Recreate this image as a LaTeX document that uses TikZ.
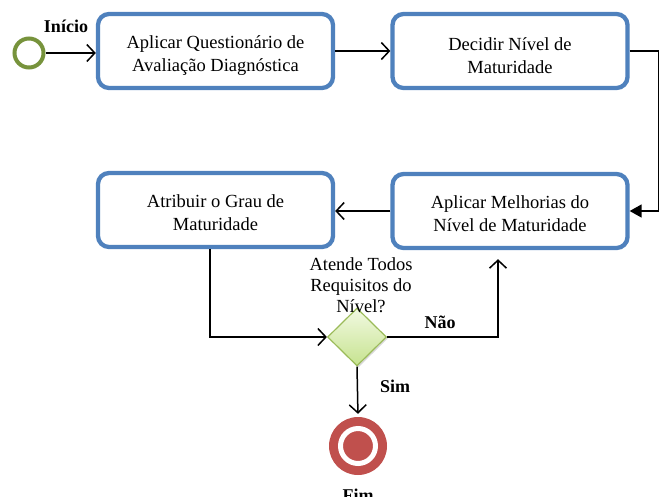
\documentclass[tikz,border=0pt]{standalone}
\usepackage{fontspec}
\setmainfont{Liberation Serif}
\usetikzlibrary{arrows.meta,shapes.geometric,shadows}
\definecolor{boxblue}{HTML}{4F81BD}
\definecolor{startgreen}{HTML}{77933C}
\definecolor{endred}{HTML}{C0504D}
\definecolor{diaborder}{HTML}{9BBB59}
\definecolor{diatop}{HTML}{F2F9E2}
\definecolor{diabot}{HTML}{C6E38F}
\newcommand\myboxtext[2]{\parbox{230pt}{\centering\vspace*{#1}#2}}
\begin{document}
\begin{tikzpicture}[x=1pt,y=-1pt,
  stepbox/.style={draw=boxblue, line width=4.3pt, rounded corners=11pt, minimum width=235pt, minimum height=74pt, inner sep=0pt, align=center, fill=white, font=\fontsize{18.5}{23}\selectfont},
  conn/.style={line width=1.5pt, -{Straight Barb[length=8pt,width=17pt,line width=1.5pt]}},
  lbl/.style={font=\fontsize{18}{20}\selectfont\bfseries}]
\useasboundingbox (0,0) rectangle (660,496);
% nodes
\node[circle, draw=startgreen, line width=4pt, minimum size=29pt, inner sep=0pt] (s) at (29,53) {};
\node[stepbox] (b1) at (215.5,51) {\myboxtext{10pt}{Aplicar Questionário de\\Avaliação Diagnóstica}};
\node[stepbox] (b2) at (510,51) {\myboxtext{10pt}{Decidir Nível de\\Maturidade}};
\node[stepbox] (b3) at (510,211) {\myboxtext{6pt}{Aplicar Melhorias do\\Nível de Maturidade}};
\node[stepbox] (b4) at (215.5,210) {\myboxtext{6pt}{Atribuir o Grau de\\Maturidade}};
\node[diamond, draw=diaborder, line width=1.2pt, top color=diatop, bottom color=diabot, minimum width=59pt, minimum height=58pt, inner sep=0pt, drop shadow={shadow xshift=1.5pt, shadow yshift=-1.5pt, fill=gray!60}] (d) at (357,337) {};
\node[circle, fill=endred, minimum size=58pt, inner sep=0pt] (f) at (358,446) {};
\draw[white, line width=5pt] (f.center) circle (17.5);
\coordinate (c1) at (658.5,51);
\coordinate (c2) at (658.5,211);
% texts
\node[lbl] (tinicio) at (66,26) {Início};
\node[lbl] (tnao) at (440,322) {Não};
\node[lbl] (tsim) at (395,386) {Sim};
\node[lbl] (tfim) at (358,495) {Fim};
\node[align=center, font=\fontsize{18.5}{21}\selectfont] (q) at (361,285) {Atende Todos\\Requisitos do\\Nível?};
% connectors
\draw[conn] (s.east) -- (s.east -| b1.west);
\draw[conn] (b1.east) -- (b2.west);
\draw[line width=1.5pt] (b2.east) -- (c1);
\draw[line width=1.5pt] (c1) -- (c2);
\draw[line width=1.5pt, -{Triangle[length=12pt,width=13pt]}] (c2) -- (b3.east);
\draw[conn] (b3.west) -- (b3.west -| b4.east);
\draw[conn] ([xshift=-5.5pt]b4.south) |- (d.west);
\draw[conn, shorten >=9pt] (d.east) -| ([xshift=-12pt]b3.south);
\draw[conn, shorten >=3pt] (d.south) -- (f.north);
\end{tikzpicture}
\end{document}
